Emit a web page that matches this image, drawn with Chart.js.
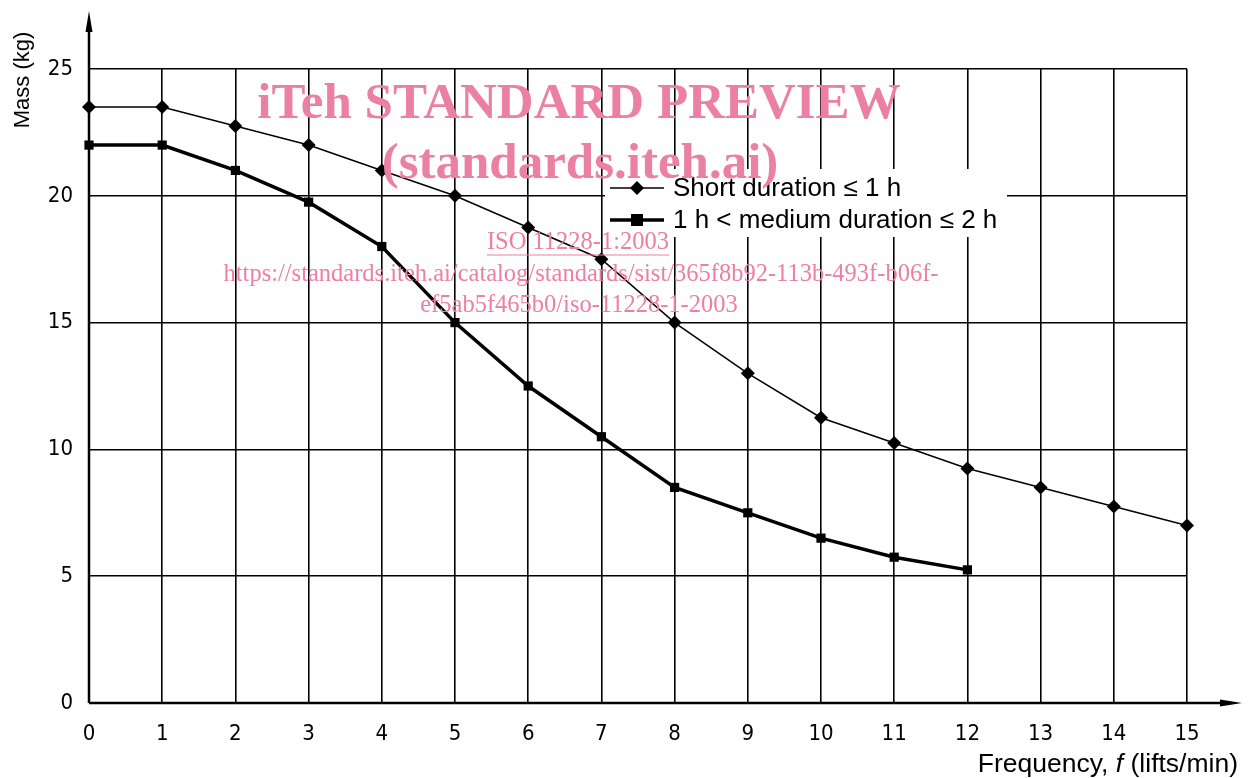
<!DOCTYPE html>
<html>
<head>
<meta charset="utf-8">
<script src="https://cdn.jsdelivr.net/npm/chart.js@4"></script>
<style>
  html, body { margin: 0; padding: 0; background: #fff; }
  #wrap { width: 1250px; height: 778px; position: relative; }
</style>
</head>
<body>
<div id="wrap"><canvas id="massChart" width="1250" height="778"></canvas></div>
<script>
(function() {
    'use strict';

    // values (ISO 11228-1)
    const frequency = [0, 1, 2, 3, 4, 5, 6, 7, 8, 9, 10, 11, 12, 13, 14, 15];
    const shortDuration = [23.5, 23.5, 22.75, 22, 21, 20, 18.75, 17.5, 15, 13, 11.25, 10.25, 9.25, 8.5, 7.75, 7];
    const mediumDuration = [22, 22, 21, 19.75, 18, 15, 12.5, 10.5, 8.5, 7.5, 6.5, 5.75, 5.25];
    const seriesNames = ['Short duration \u2264 1 h', '1 h < medium duration \u2264 2 h'];
    const yTicks = [0, 5, 10, 15, 20, 25];

    const tickFont = "'Liberation Sans Narrow', 'DejaVu Sans Condensed', 'Liberation Sans', sans-serif";
    const textFont = "'Liberation Sans', Arial, sans-serif";
    const serifFont = "'Liberation Serif', 'DejaVu Serif', serif";
    const pink = 'rgb(236, 128, 162)';

    function toPoints(values) {
        return values.map(function(v, i) { return { x: frequency[i], y: v }; });
    }

    // white legend box sitting on the grid, behind the curves
    const legendBox = {
        id: 'legendBox',
        beforeDatasetsDraw: function(chart) {
            const ctx = chart.ctx;
            ctx.save();
            ctx.fillStyle = '#fff';
            ctx.fillRect(605, 169, 402, 68);
            ctx.restore();
        },
        afterDatasetsDraw: function(chart) {
            const ctx = chart.ctx;
            const rows = [
                { y: 188, ds: chart.data.datasets[0] },
                { y: 220, ds: chart.data.datasets[1] }
            ];
            ctx.save();
            rows.forEach(function(r) {
                ctx.strokeStyle = '#000';
                ctx.lineWidth = r.ds.borderWidth;
                ctx.beginPath();
                ctx.moveTo(610, r.y);
                ctx.lineTo(664, r.y);
                ctx.stroke();
                ctx.fillStyle = '#000';
                ctx.beginPath();
                if (r.ds.pointStyle === 'rectRot') {
                    ctx.moveTo(637, r.y - 7);
                    ctx.lineTo(644, r.y);
                    ctx.lineTo(637, r.y + 7);
                    ctx.lineTo(630, r.y);
                    ctx.closePath();
                } else {
                    ctx.rect(631, r.y - 6, 12, 12);
                }
                ctx.fill();
                ctx.font = '26px ' + textFont;
                ctx.textBaseline = 'middle';
                ctx.fillText(r.ds.label, 673, r.y + 1);
            });
            ctx.restore();
        }
    };

    // axis arrows, axis titles, watermark
    const decorations = {
        id: 'decorations',
        afterDraw: function(chart) {
            const ctx = chart.ctx;
            const a = chart.chartArea;
            ctx.save();
            ctx.strokeStyle = '#000';
            ctx.fillStyle = '#000';
            ctx.lineWidth = 2.5;
            ctx.beginPath();
            ctx.moveTo(a.left, a.bottom);
            ctx.lineTo(a.left, 22);
            ctx.moveTo(a.left, a.bottom);
            ctx.lineTo(1228, a.bottom);
            ctx.stroke();
            ctx.beginPath();
            ctx.moveTo(a.left, 11);
            ctx.lineTo(a.left - 3.5, 32);
            ctx.lineTo(a.left + 3.5, 32);
            ctx.closePath();
            ctx.fill();
            ctx.beginPath();
            ctx.moveTo(1242, a.bottom);
            ctx.lineTo(1220, a.bottom - 3.5);
            ctx.lineTo(1220, a.bottom + 3.5);
            ctx.closePath();
            ctx.fill();

            ctx.font = '22px ' + textFont;
            ctx.textBaseline = 'middle';
            ctx.save();
            ctx.translate(23, 80);
            ctx.rotate(-Math.PI / 2);
            ctx.textAlign = 'center';
            ctx.fillText('Mass (kg)', 0, 0);
            ctx.restore();

            ctx.textAlign = 'left';
            const parts = [
                { t: 'Frequency, ', f: '26.5px ' + textFont },
                { t: 'f', f: 'italic 26.5px ' + textFont },
                { t: ' (lifts/min)', f: '26.5px ' + textFont }
            ];
            let total = 0;
            parts.forEach(function(p) { ctx.font = p.f; total += ctx.measureText(p.t).width; });
            let x = 1238 - total;
            parts.forEach(function(p) {
                ctx.font = p.f;
                ctx.fillText(p.t, x, 765);
                x += ctx.measureText(p.t).width;
            });

            // watermark
            ctx.fillStyle = pink;
            ctx.strokeStyle = pink;
            ctx.textAlign = 'center';
            ctx.font = 'bold 51px ' + serifFont;
            ctx.fillText('iTeh STANDARD PREVIEW', 579, 105);
            ctx.fillText('(standards.iteh.ai)', 580, 165);
            ctx.font = '24.5px ' + serifFont;
            ctx.fillText('ISO 11228-1:2003', 578, 243);
            const w = ctx.measureText('ISO 11228-1:2003').width;
            ctx.lineWidth = 1.2;
            ctx.beginPath();
            ctx.moveTo(578 - w / 2, 255);
            ctx.lineTo(578 + w / 2, 255);
            ctx.stroke();
            ctx.fillText('https://standards.iteh.ai/catalog/standards/sist/365f8b92-113b-493f-b06f-', 581, 275);
            ctx.fillText('ef5ab5f465b0/iso-11228-1-2003', 579, 306);
            ctx.restore();
        }
    };

    function initChart() {
        const canvas = document.getElementById('massChart');
        new Chart(canvas, {
            type: 'line',
            data: {
                datasets: [{
                    label: seriesNames[0],
                    data: toPoints(shortDuration),
                    borderColor: '#000',
                    backgroundColor: '#000',
                    borderWidth: 1.5,
                    pointStyle: 'rectRot',
                    pointRadius: 7,
                    pointHoverRadius: 7,
                    pointBorderWidth: 0,
                    clip: false,
                    tension: 0
                }, {
                    label: seriesNames[1],
                    data: toPoints(mediumDuration),
                    borderColor: '#000',
                    backgroundColor: '#000',
                    borderWidth: 3.5,
                    pointStyle: 'rect',
                    pointRadius: 6.5,
                    pointHoverRadius: 6.5,
                    pointBorderWidth: 0,
                    clip: false,
                    tension: 0
                }]
            },
            options: {
                responsive: false,
                animation: false,
                events: [],
                layout: { padding: { top: 69, right: 63, left: 0, bottom: 0 } },
                plugins: {
                    legend: { display: false },
                    tooltip: { enabled: false }
                },
                scales: {
                    x: {
                        type: 'linear',
                        min: 0,
                        max: 15,
                        afterFit: function(scale) { scale.height = 75; },
                        afterBuildTicks: function(scale) {
                            scale.ticks = frequency.map(function(v) { return { value: v }; });
                        },
                        border: { display: false },
                        grid: { color: '#000', lineWidth: 1.6, drawTicks: false },
                        ticks: {
                            color: '#000',
                            padding: 18,
                            maxRotation: 0,
                            autoSkip: false,
                            font: { family: tickFont, size: 22 }
                        }
                    },
                    y: {
                        min: 0,
                        max: 25,
                        afterFit: function(scale) { scale.width = 89; },
                        afterBuildTicks: function(scale) {
                            scale.ticks = yTicks.map(function(v) { return { value: v }; });
                        },
                        border: { display: false },
                        grid: { color: '#000', lineWidth: 1.6, drawTicks: false },
                        ticks: {
                            color: '#000',
                            padding: 16,
                            font: { family: tickFont, size: 22 }
                        }
                    }
                }
            },
            plugins: [legendBox, decorations]
        });
    }

    if (document.readyState === 'loading') {
        document.addEventListener('DOMContentLoaded', initChart);
    } else {
        initChart();
    }
})();
</script>
</body>
</html>
